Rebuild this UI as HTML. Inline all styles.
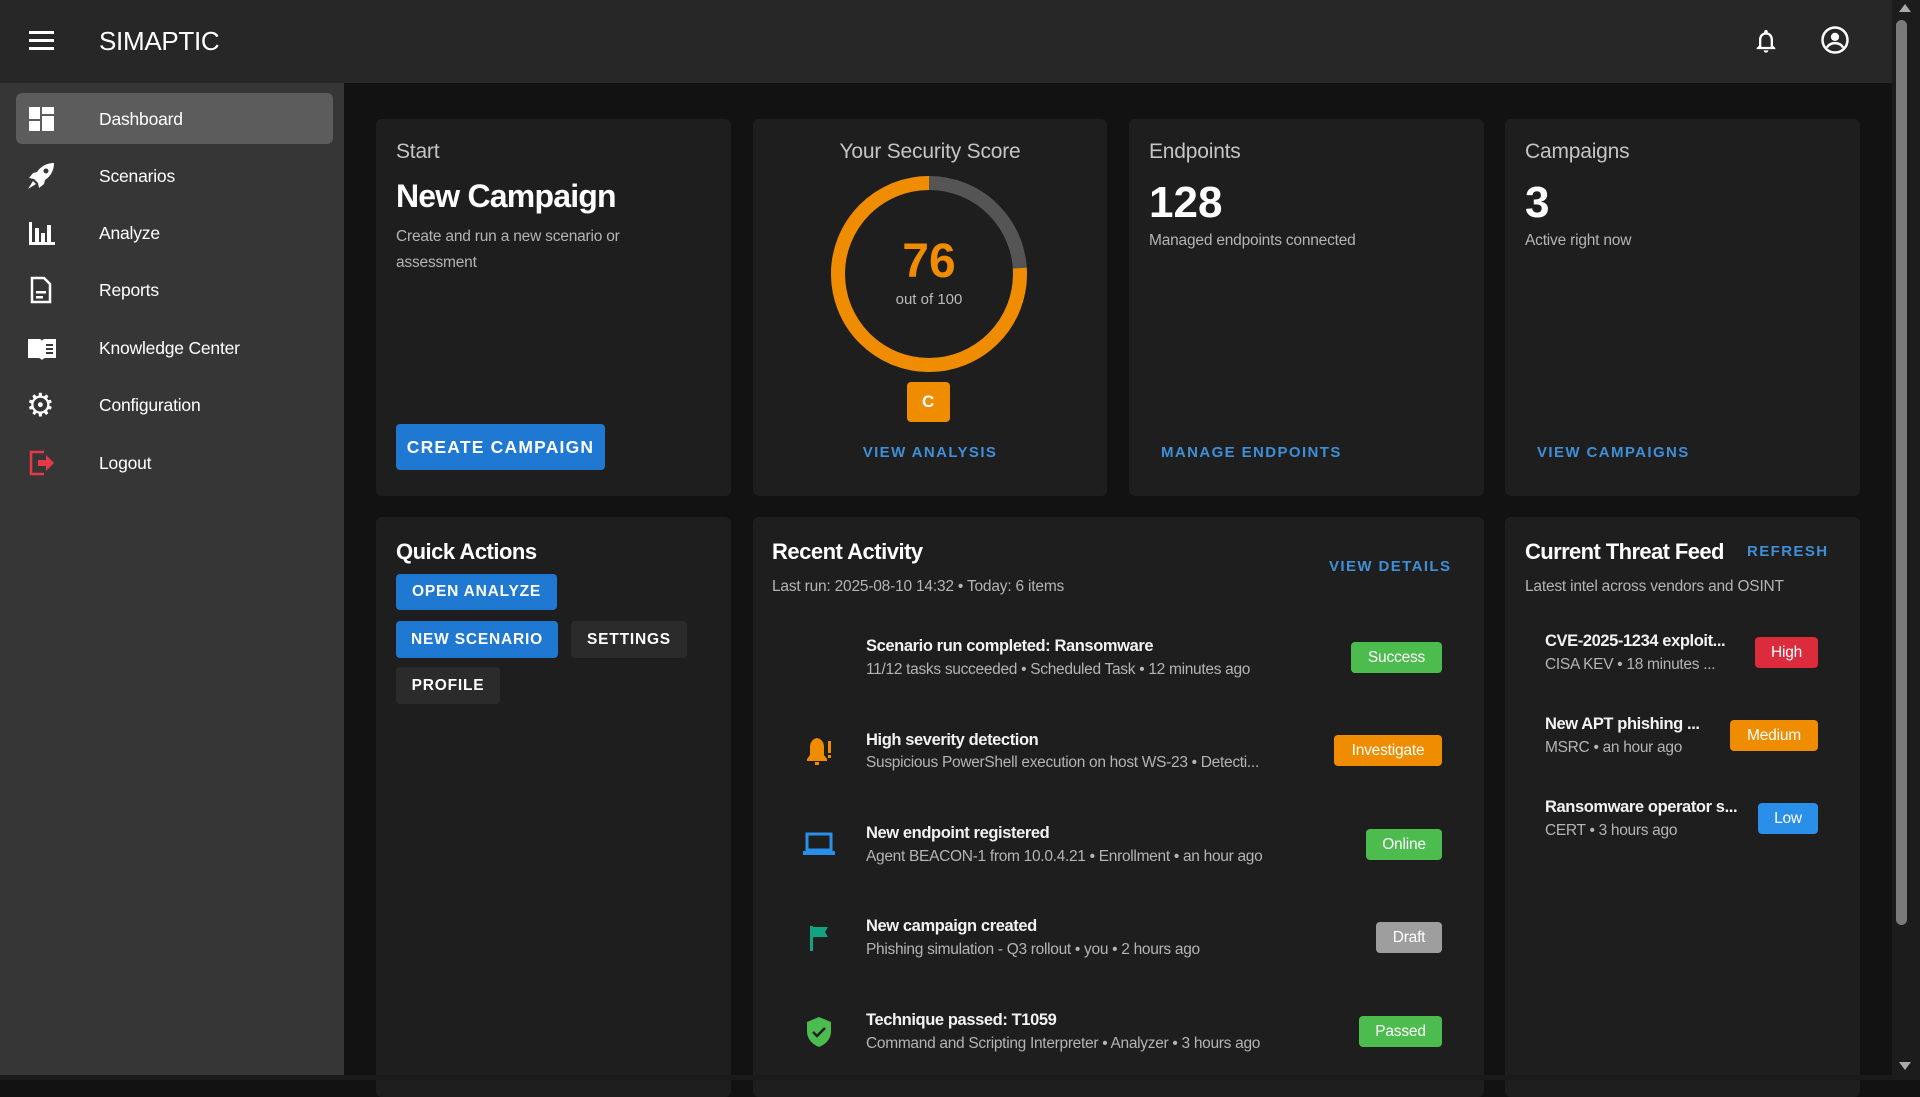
<!DOCTYPE html>
<html><head><meta charset="utf-8"><style>
*{box-sizing:border-box;margin:0;padding:0}
body{width:1920px;height:1080px;overflow:hidden;background:#121212;font-family:"Liberation Sans",sans-serif;color:#fff;position:relative}
.abs{position:absolute}
.top{left:0;top:0;width:1892px;height:83px;background:#272727}
.side{left:0;top:83px;width:344px;height:997px;background:#363636}
.sb{left:1892px;top:0;width:28px;height:1080px;background:#1c1c1c}
.thumb{left:1896px;top:20px;width:11px;height:905px;background:#7a7a7a;border-radius:6px}
.nav{left:16px;width:317px;height:51px;border-radius:6px}
.navt{left:99px;font-size:17.5px;color:#fff;line-height:20px;letter-spacing:-0.2px}
.card{background:#1e1e1e;border-radius:6px}
.lbl{font-size:21px;color:#c4c4c4;letter-spacing:-0.2px}
.sub{font-size:15.5px;color:#b4b4b4;letter-spacing:-0.2px}
.link{font-size:15px;color:#3f8fd8;letter-spacing:1.4px;font-weight:bold}
.btn{font-size:15.5px;font-weight:bold;letter-spacing:0.8px;color:#fff;border-radius:4px;display:flex;align-items:center;justify-content:center}
.blue{background:#1f78d1}
.dark{background:#2b2b2b}
.it{left:866px;font-size:16.5px;font-weight:bold;color:#f2f2f2;white-space:nowrap;letter-spacing:-0.4px}
.is{left:866px;font-size:15.5px;color:#b4b4b4;white-space:nowrap;letter-spacing:-0.3px}
.chip{height:31px;border-radius:4px;font-size:15.5px;color:#fff;display:flex;align-items:center;justify-content:center;letter-spacing:-0.2px}
</style></head><body>
<div class="abs top"></div>
<div class="abs side"></div>
<div class="abs sb"></div>
<div class="abs thumb"></div>
<div class="abs" style="left:1899px;top:4px;width:0;height:0;border-left:6px solid transparent;border-right:6px solid transparent;border-bottom:8px solid #aaa"></div>
<div class="abs" style="left:1899px;top:1062px;width:0;height:0;border-left:6px solid transparent;border-right:6px solid transparent;border-top:8px solid #aaa"></div>

<!-- hamburger -->
<div class="abs" style="left:29px;top:31px;width:25px;height:3px;background:#fff"></div>
<div class="abs" style="left:29px;top:39px;width:25px;height:3px;background:#fff"></div>
<div class="abs" style="left:29px;top:47px;width:25px;height:3px;background:#fff"></div>
<div class="abs" style="left:99px;top:26px;font-size:26px;color:#fff;letter-spacing:-0.3px">SIMAPTIC</div>
<!-- bell -->
<svg class="abs" style="left:1752px;top:26px" width="28" height="30" viewBox="0 0 24 24"><path fill="#fff" d="M12 22c1.1 0 2-.9 2-2h-4c0 1.1.9 2 2 2zm6-6v-5c0-3.07-1.64-5.64-4.5-6.32V4c0-.83-.67-1.5-1.5-1.5s-1.5.67-1.5 1.5v.68C7.63 5.36 6 7.92 6 11v5l-2 2v1h16v-1l-2-2zm-2 1H8v-6c0-2.480 1.51-4.5 4-4.5s4 2.02 4 4.5v6z"/></svg>
<svg class="abs" style="left:1820px;top:25px" width="30" height="30" viewBox="0 0 24 24"><circle cx="12" cy="12" r="10" fill="none" stroke="#fff" stroke-width="2"/><circle cx="12" cy="9.5" r="3.3" fill="#fff"/><path d="M5.5 18c1.5-2.5 4-3.5 6.5-3.5s5 1 6.5 3.5" fill="none" stroke="#fff" stroke-width="2"/></svg>

<!-- nav -->
<div class="abs nav" style="top:93px;background:#5c5c5c"></div>
<div class="abs" style="left:29px;top:107px;width:11px;height:12px;background:#fff"></div>
<div class="abs" style="left:29px;top:121px;width:11px;height:10px;background:#fff"></div>
<div class="abs" style="left:42px;top:107px;width:12px;height:7px;background:#fff"></div>
<div class="abs" style="left:42px;top:116px;width:12px;height:15px;background:#fff"></div>
<div class="abs navt" style="top:109px">Dashboard</div>
<svg class="abs" style="left:27px;top:162px" width="28" height="28" viewBox="0 0 28 28"><path d="M27 1C20 1 14 4 10 10l-4 1-4 5 5 1 4 4 1 5 5-4 1-4c6-4 9-10 9-17z" fill="#fff"/><circle cx="19" cy="9" r="2.5" fill="#363636"/><path d="M6 19l-5 8 8-5z" fill="#fff"/></svg>
<div class="abs navt" style="top:166px">Scenarios</div>
<svg class="abs" style="left:28px;top:220px" width="28" height="26"><rect x="1" y="2" width="3" height="22" fill="#fff"/><rect x="7" y="8" width="4" height="16" fill="#fff"/><rect x="13" y="13" width="4" height="11" fill="#fff"/><rect x="19" y="5" width="4" height="19" fill="#fff"/><rect x="1" y="22" width="26" height="3" fill="#fff"/></svg>
<div class="abs navt" style="top:223px">Analyze</div>
<svg class="abs" style="left:29px;top:276px" width="24" height="28" viewBox="0 0 24 28"><path d="M3 2h12l6 6v18H3z" fill="none" stroke="#fff" stroke-width="2.5"/><rect x="7" y="15" width="10" height="2.5" fill="#fff"/><rect x="7" y="20" width="7" height="2.5" fill="#fff"/></svg>
<div class="abs navt" style="top:280px">Reports</div>
<svg class="abs" style="left:26px;top:336px" width="32" height="26" viewBox="0 0 32 26"><path d="M2 3h11c2 0 3 1 3 3v18c-1-1-2-2-4-2H2z M30 3H19c-2 0-3 1-3 3v18c1-1 2-2 4-2h10z" fill="#fff"/><rect x="20" y="8" width="7" height="2" fill="#363636"/><rect x="20" y="12" width="7" height="2" fill="#363636"/><rect x="20" y="16" width="7" height="2" fill="#363636"/></svg>
<div class="abs navt" style="top:338px">Knowledge Center</div>
<div class="abs" style="left:26px;top:389px;font-size:32px;line-height:32px;color:#fff">⚙</div>
<div class="abs navt" style="top:395px">Configuration</div>
<svg class="abs" style="left:28px;top:449px" width="28" height="28" viewBox="0 0 28 28"><path d="M16 3H3v22h13" fill="none" stroke="#e53945" stroke-width="2.5"/><path d="M10 11h8V6l8 8-8 8v-5h-8z" fill="#e53945"/></svg>
<div class="abs navt" style="top:453px">Logout</div>

<!-- row 1 -->
<div class="abs card" style="left:376px;top:119px;width:355px;height:377px"></div>
<div class="abs card" style="left:753px;top:119px;width:354px;height:377px"></div>
<div class="abs card" style="left:1129px;top:119px;width:355px;height:377px"></div>
<div class="abs card" style="left:1505px;top:119px;width:355px;height:377px"></div>

<div class="abs lbl" style="left:396px;top:140px">Start</div>
<div class="abs" style="left:396px;top:178px;font-size:32px;font-weight:bold;letter-spacing:-0.8px">New Campaign</div>
<div class="abs sub" style="left:396px;top:224px;line-height:26px;width:280px">Create and run a new scenario or assessment</div>
<div class="abs btn blue" style="left:396px;top:424px;width:209px;height:46px;font-size:17.5px;letter-spacing:1.2px">CREATE CAMPAIGN</div>

<div class="abs lbl" style="left:753px;width:354px;text-align:center;top:140px">Your Security Score</div>
<svg class="abs" style="left:829px;top:174px" width="200" height="200"><circle cx="100" cy="100" r="91" fill="none" stroke="#555" stroke-width="14"/><circle cx="100" cy="100" r="91" fill="none" stroke="#f08c00" stroke-width="14" stroke-dasharray="434.5 1000" transform="translate(200 0) scale(-1 1) rotate(-90 100 100)"/></svg>
<div class="abs" style="left:829px;width:200px;text-align:center;top:234px;font-size:48px;font-weight:bold;color:#f08c00">76</div>
<div class="abs" style="left:829px;width:200px;text-align:center;top:291px;font-size:15px;color:#bbb">out of 100</div>
<div class="abs btn" style="left:907px;top:382px;width:43px;height:40px;background:#f08c00;font-size:17px">C</div>
<div class="abs link" style="left:753px;width:354px;text-align:center;top:444px">VIEW ANALYSIS</div>

<div class="abs lbl" style="left:1149px;top:140px">Endpoints</div>
<div class="abs" style="left:1149px;top:178px;font-size:44px;font-weight:bold">128</div>
<div class="abs sub" style="left:1149px;top:232px">Managed endpoints connected</div>
<div class="abs link" style="left:1161px;top:444px">MANAGE ENDPOINTS</div>

<div class="abs lbl" style="left:1525px;top:140px">Campaigns</div>
<div class="abs" style="left:1525px;top:178px;font-size:44px;font-weight:bold">3</div>
<div class="abs sub" style="left:1525px;top:232px">Active right now</div>
<div class="abs link" style="left:1537px;top:444px">VIEW CAMPAIGNS</div>

<!-- row 2 -->
<div class="abs card" style="left:376px;top:517px;width:355px;height:580px"></div>
<div class="abs card" style="left:753px;top:517px;width:731px;height:580px"></div>
<div class="abs card" style="left:1505px;top:517px;width:355px;height:580px"></div>

<div class="abs" style="left:396px;top:539px;font-size:22px;font-weight:bold;letter-spacing:-0.5px">Quick Actions</div>
<div class="abs btn blue" style="left:396px;top:574px;width:161px;height:36px">OPEN ANALYZE</div>
<div class="abs btn blue" style="left:396px;top:621px;width:162px;height:37px">NEW SCENARIO</div>
<div class="abs btn dark" style="left:571px;top:621px;width:116px;height:37px">SETTINGS</div>
<div class="abs btn dark" style="left:396px;top:667px;width:104px;height:37px">PROFILE</div>

<div class="abs" style="left:772px;top:539px;font-size:22px;font-weight:bold;letter-spacing:-0.5px">Recent Activity</div>
<div class="abs sub" style="left:772px;top:578px">Last run: 2025-08-10 14:32 • Today: 6 items</div>
<div class="abs link" style="left:1329px;top:558px">VIEW DETAILS</div>

<div class="abs it" style="top:637px">Scenario run completed: Ransomware</div>
<div class="abs is" style="top:661px">11/12 tasks succeeded • Scheduled Task • 12 minutes ago</div>
<div class="abs chip" style="left:1351px;top:642px;width:91px;background:#4cbc4f">Success</div>

<svg class="abs" style="left:804px;top:735px" width="30" height="32" viewBox="0 0 30 32"><path d="M13 3c-5 1-7 5-7 9v8l-3 4v2h20v-2l-3-4v-8c0-4-2-8-7-9z" fill="#f08c00"/><rect x="11" y="27" width="4" height="3" fill="#f08c00"/><rect x="24" y="6" width="3" height="12" fill="#f08c00"/><rect x="24" y="20" width="3" height="3" fill="#f08c00"/></svg>
<div class="abs it" style="top:731px">High severity detection</div>
<div class="abs is" style="top:754px">Suspicious PowerShell execution on host WS-23 • Detecti...</div>
<div class="abs chip" style="left:1334px;top:735px;width:108px;background:#f08c00">Investigate</div>

<svg class="abs" style="left:803px;top:832px" width="32" height="24"><rect x="4" y="2" width="24" height="16" fill="none" stroke="#2a8fe8" stroke-width="3"/><rect x="0" y="19" width="32" height="4" fill="#2a8fe8"/></svg>
<div class="abs it" style="top:824px">New endpoint registered</div>
<div class="abs is" style="top:848px">Agent BEACON-1 from 10.0.4.21 • Enrollment • an hour ago</div>
<div class="abs chip" style="left:1366px;top:829px;width:76px;background:#4cbc4f">Online</div>

<svg class="abs" style="left:808px;top:924px" width="22" height="28"><rect x="2" y="2" width="3" height="25" fill="#12a382"/><path d="M5 3h15l-3 5 3 5H5z" fill="#12a382"/></svg>
<div class="abs it" style="top:917px">New campaign created</div>
<div class="abs is" style="top:941px">Phishing simulation - Q3 rollout • you • 2 hours ago</div>
<div class="abs chip" style="left:1376px;top:922px;width:66px;background:#9e9e9e">Draft</div>

<svg class="abs" style="left:805px;top:1016px" width="28" height="32" viewBox="0 0 28 32"><path d="M14 1l12 5v9c0 8-5 13-12 16C7 28 2 23 2 15V6z" fill="#4cbc4f"/><path d="M8 16l4 4 8-8" fill="none" stroke="#1e1e1e" stroke-width="2.5"/></svg>
<div class="abs it" style="top:1011px">Technique passed: T1059</div>
<div class="abs is" style="top:1035px">Command and Scripting Interpreter • Analyzer • 3 hours ago</div>
<div class="abs chip" style="left:1359px;top:1016px;width:83px;background:#4cbc4f">Passed</div>

<div class="abs" style="left:1525px;top:539px;font-size:22px;font-weight:bold;letter-spacing:-0.6px">Current Threat Feed</div>
<div class="abs link" style="left:1747px;top:543px">REFRESH</div>
<div class="abs sub" style="left:1525px;top:578px">Latest intel across vendors and OSINT</div>

<div class="abs it" style="left:1545px;top:632px">CVE-2025-1234 exploit...</div>
<div class="abs is" style="left:1545px;top:656px">CISA KEV • 18 minutes ...</div>
<div class="abs chip" style="left:1755px;top:637px;width:63px;background:#dc2b3c">High</div>

<div class="abs it" style="left:1545px;top:715px">New APT phishing ...</div>
<div class="abs is" style="left:1545px;top:739px">MSRC • an hour ago</div>
<div class="abs chip" style="left:1730px;top:720px;width:88px;background:#f08c00">Medium</div>

<div class="abs it" style="left:1545px;top:798px">Ransomware operator s...</div>
<div class="abs is" style="left:1545px;top:822px">CERT • 3 hours ago</div>
<div class="abs chip" style="left:1758px;top:803px;width:60px;background:#2a8fe8">Low</div>
<div class="abs" style="left:0;top:1075px;width:1892px;height:5px;background:#1a1a1a"></div>
</body></html>
